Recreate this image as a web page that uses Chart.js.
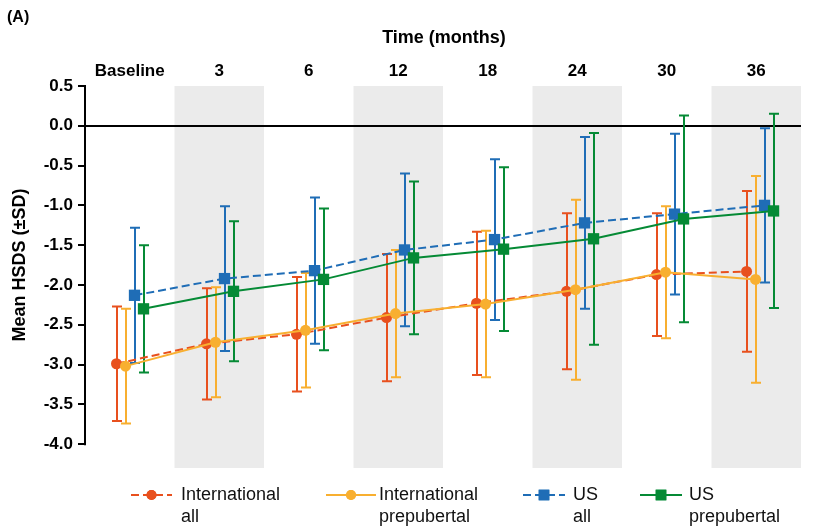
<!DOCTYPE html>
<html>
<head>
<meta charset="utf-8">
<script src="https://cdn.jsdelivr.net/npm/chart.js@4.4.1/dist/chart.umd.min.js"></script>
<style>
  html, body { margin: 0; padding: 0; background: #ffffff; }
  #wrap { position: relative; width: 827px; height: 528px; }
</style>
</head>
<body>
<div id="wrap"><canvas id="c" width="827" height="528"></canvas></div>
<script>
// ---- data ----
const categories = ['Baseline', '3', '6', '12', '18', '24', '30', '36'];
const yTicks = [0.5, 0, -0.5, -1, -1.5, -2, -2.5, -3, -3.5, -4];

const intlAllMean = [-2.99, -2.74, -2.62, -2.41, -2.23, -2.08, -1.87, -1.83];
const intlAllSD   = [0.72, 0.70, 0.72, 0.80, 0.90, 0.98, 0.77, 1.01];

const intlPreMean = [-3.02, -2.72, -2.57, -2.36, -2.24, -2.06, -1.84, -1.93];
const intlPreSD   = [0.72, 0.69, 0.72, 0.80, 0.92, 1.13, 0.83, 1.30];

const usAllMean = [-2.13, -1.92, -1.82, -1.56, -1.43, -1.22, -1.11, -1.00];
const usAllSD   = [0.85, 0.91, 0.92, 0.96, 1.01, 1.08, 1.01, 0.97];

const usPreMean = [-2.30, -2.08, -1.93, -1.66, -1.55, -1.42, -1.17, -1.07];
const usPreSD   = [0.80, 0.88, 0.89, 0.96, 1.03, 1.33, 1.30, 1.22];

const seriesLabels = ['International\nall', 'International\nprepubertal', 'US\nall', 'US\nprepubertal'];

// ---- styling ----
const FONT = "'Liberation Sans', Arial, Helvetica, sans-serif";
Chart.defaults.font.family = FONT;
Chart.defaults.color = '#000';

const COLORS = ['#E8501E', '#F8AF30', '#1F6DB6', '#058A35'];
const GROUP_OFFSETS = [-0.15, -0.05, 0.05, 0.15]; // within-category dodge (axis units)

function makePoints(means, off) {
  return means.map((m, i) => ({ x: i + off, y: m }));
}

const datasets = [
  { label: seriesLabels[0], data: makePoints(intlAllMean, GROUP_OFFSETS[0]), sd: intlAllSD,
    borderColor: COLORS[0], backgroundColor: COLORS[0], borderDash: [8, 4], pointStyle: 'circle',
    pointRadius: 5.5, legendRadius: 5, order: 4 },
  { label: seriesLabels[1], data: makePoints(intlPreMean, GROUP_OFFSETS[1]), sd: intlPreSD,
    borderColor: COLORS[1], backgroundColor: COLORS[1], borderDash: [], pointStyle: 'circle',
    pointRadius: 5.5, legendRadius: 5, order: 2 },
  { label: seriesLabels[2], data: makePoints(usAllMean, GROUP_OFFSETS[2]), sd: usAllSD,
    borderColor: COLORS[2], backgroundColor: COLORS[2], borderDash: [8, 4], pointStyle: 'rect',
    pointRadius: 8, legendRadius: 7.5, order: 3 },
  { label: seriesLabels[3], data: makePoints(usPreMean, GROUP_OFFSETS[3]), sd: usPreSD,
    borderColor: COLORS[3], backgroundColor: COLORS[3], borderDash: [], pointStyle: 'rect',
    pointRadius: 8, legendRadius: 7.5, order: 1 }
].map(d => Object.assign({
  xAxisID: 'xd', yAxisID: 'y', borderWidth: 2, tension: 0, fill: false,
  pointBorderWidth: 0, pointHoverRadius: 0
}, d));

// ---- plugins ----
const backdropPlugin = {
  id: 'backdrop',
  beforeDatasetsDraw(chart) {
    const { ctx, chartArea } = chart;
    const xs = chart.scales.x, ys = chart.scales.y;
    ctx.save();
    // alternating grey bands
    ctx.fillStyle = '#EBEBEB';
    categories.forEach((c, i) => {
      if (i % 2 === 1) {
        const l = xs.getPixelForValue(i - 0.5), r = xs.getPixelForValue(i + 0.5);
        ctx.fillRect(l, chartArea.top, r - l, chartArea.bottom - chartArea.top);
      }
    });
    // zero reference line
    const y0 = Math.round(ys.getPixelForValue(0));
    ctx.strokeStyle = '#000';
    ctx.lineWidth = 2;
    ctx.beginPath();
    ctx.moveTo(chartArea.left, y0);
    ctx.lineTo(chartArea.right, y0);
    ctx.stroke();
    // y axis line (from top tick to bottom tick)
    const yt = ys.getPixelForValue(yTicks[0]);
    const yb = ys.getPixelForValue(yTicks[yTicks.length - 1]);
    ctx.beginPath();
    ctx.moveTo(chartArea.left, yt - 1);
    ctx.lineTo(chartArea.left, yb + 1);
    ctx.stroke();
    // error bars (±SD)
    chart.data.datasets.forEach((ds) => {
      const xsd = chart.scales[ds.xAxisID];
      ctx.strokeStyle = ds.borderColor;
      ctx.lineWidth = 2;
      ds.data.forEach((p, i) => {
        const x = Math.round(xsd.getPixelForValue(p.x));
        const top = ys.getPixelForValue(p.y + ds.sd[i]);
        const bot = ys.getPixelForValue(p.y - ds.sd[i]);
        ctx.beginPath();
        ctx.moveTo(x, top); ctx.lineTo(x, bot);
        ctx.moveTo(x - 5, top); ctx.lineTo(x + 5, top);
        ctx.moveTo(x - 5, bot); ctx.lineTo(x + 5, bot);
        ctx.stroke();
      });
    });
    ctx.restore();
  }
};

const textPlugin = {
  id: 'texts',
  afterDraw(chart) {
    const { ctx, chartArea } = chart;
    const ys = chart.scales.y;
    ctx.save();
    ctx.fillStyle = '#000';
    ctx.textBaseline = 'middle';
    // panel tag
    ctx.font = 'bold 16px ' + FONT;
    ctx.textAlign = 'left';
    ctx.fillText('(A)', 7, 18);
    // top axis title
    ctx.font = 'bold 18px ' + FONT;
    ctx.textAlign = 'center';
    ctx.fillText('Time (months)', (chartArea.left + chartArea.right) / 2 + 1, 38);
    // y axis title
    const yMid = (ys.getPixelForValue(yTicks[0]) + ys.getPixelForValue(yTicks[yTicks.length - 1])) / 2;
    ctx.save();
    ctx.translate(20, yMid);
    ctx.rotate(-Math.PI / 2);
    ctx.fillText('Mean HSDS (\u00B1SD)', 0, 0);
    ctx.restore();

    // legend
    const slots = [
      { s0: 131, s1: 172, tx: 181 },
      { s0: 326, s1: 376, tx: 379 },
      { s0: 523, s1: 565, tx: 573 },
      { s0: 640, s1: 682, tx: 689 }
    ];
    const ly = 495, lh = 22;
    chart.data.datasets.forEach((ds, k) => {
      const s = slots[k];
      ctx.strokeStyle = ds.borderColor;
      ctx.lineWidth = 2;
      ctx.setLineDash(ds.borderDash || []);
      ctx.beginPath();
      ctx.moveTo(s.s0, ly); ctx.lineTo(s.s1, ly);
      ctx.stroke();
      ctx.setLineDash([]);
      ctx.fillStyle = ds.backgroundColor;
      Chart.helpers.drawPoint(ctx, {
        pointStyle: ds.pointStyle, radius: ds.legendRadius, borderWidth: 0, rotation: 0
      }, (s.s0 + s.s1) / 2, ly);
      ctx.fillStyle = ds.backgroundColor;
      ctx.fill();
      ctx.fillStyle = '#111';
      ctx.font = '18px ' + FONT;
      ctx.textAlign = 'left';
      ds.label.split('\n').forEach((line, j) => ctx.fillText(line, s.tx, ly + j * lh));
    });
    ctx.restore();
  }
};

new Chart(document.getElementById('c'), {
  type: 'line',
  data: { datasets },
  options: {
    responsive: false,
    devicePixelRatio: 1,
    animation: false,
    layout: { padding: { left: 0, top: 0, right: 26, bottom: 60 } },
    plugins: { legend: { display: false }, tooltip: { enabled: false }, title: { display: false } },
    scales: {
      x: {
        type: 'linear', position: 'top', min: -0.5, max: categories.length - 0.5,
        afterBuildTicks: (s) => { s.ticks = categories.map((c, i) => ({ value: i })); },
        ticks: {
          autoSkip: false, maxRotation: 0, padding: 4, color: '#000',
          font: { size: 17, weight: 'bold' },
          callback: (v) => categories[Math.round(v)] ?? ''
        },
        grid: { display: false, drawTicks: false },
        border: { display: false },
        afterFit: (s) => { s.height = 86; }
      },
      xd: {
        type: 'linear', display: false, min: -0.5, max: categories.length - 0.545
      },
      y: {
        type: 'linear', position: 'left', min: -4.3, max: 0.5,
        afterBuildTicks: (s) => { s.ticks = yTicks.map(v => ({ value: v })); },
        ticks: {
          padding: 5, color: '#000', font: { size: 17, weight: 'bold' },
          callback: (v) => Number(v).toFixed(1)
        },
        grid: { display: true, drawOnChartArea: false, drawTicks: true, tickLength: 7, color: '#000', lineWidth: 2 },
        border: { display: false },
        afterFit: (s) => { s.width = 85; }
      }
    }
  },
  plugins: [backdropPlugin, textPlugin]
});
</script>
</body>
</html>
